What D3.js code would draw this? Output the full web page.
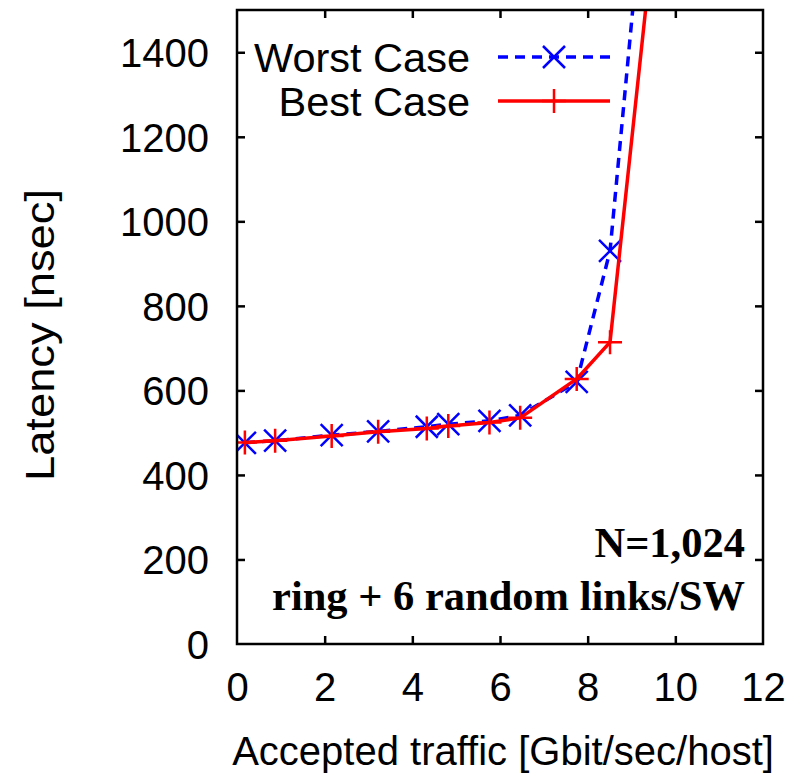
<!DOCTYPE html>
<html>
<head>
<meta charset="utf-8">
<script src="https://cdn.jsdelivr.net/npm/d3@7/dist/d3.min.js"></script>
<style>
  html, body { margin: 0; padding: 0; background: #fff; }
  svg { display: block; }
  text { font-family: "Liberation Sans", Arial, Helvetica, sans-serif; fill: #000; }
  .note { font-family: "Liberation Serif", "Times New Roman", serif; font-weight: bold; }
</style>
</head>
<body>
<svg id="chart" width="796" height="779"></svg>
<script>
// Accepted traffic (Gbit/sec/host) and latency (nsec) per load step
const worstX = [0.18, 0.87, 2.16, 3.22, 4.33, 4.82, 5.76, 6.46, 7.75, 8.51, 9.20];
const worstY = [476, 481, 494, 503, 514, 520, 528, 541, 620, 930, 1690];
const bestX  = [0.18, 0.87, 2.16, 3.22, 4.33, 4.82, 5.76, 6.46, 7.75, 8.51, 9.60];
const bestY  = [477, 481, 492, 502, 510, 516, 524, 535, 627, 714, 1770];

const xTicks = [0, 2, 4, 6, 8, 10, 12];
const yTicks = [0, 200, 400, 600, 800, 1000, 1200, 1400];
const seriesNames = ["Worst Case", "Best Case"];
const noteLines = ["N=1,024", "ring + 6 random links/SW"];

const svg = d3.select("#chart");
const m = { left: 237, right: 763, top: 10, bottom: 644 };

const x = d3.scaleLinear().domain([0, 12]).range([m.left, m.right]);
const y = d3.scaleLinear().domain([0, 1500]).range([m.bottom, m.top]);

svg.append("defs").append("clipPath").attr("id", "plotClip")
  .append("rect")
  .attr("x", m.left).attr("y", m.top)
  .attr("width", m.right - m.left).attr("height", m.bottom - m.top);

// Axes: ticks drawn inward on all four sides
const tickLen = 8;
const fontSize = 40;

const axB = d3.axisBottom(x).tickValues(xTicks).tickSize(-tickLen).tickPadding(29).tickFormat(d3.format("d"));
const axT = d3.axisTop(x).tickValues(xTicks).tickSize(-tickLen).tickFormat("");
const axL = d3.axisLeft(y).tickValues(yTicks).tickSize(-tickLen).tickPadding(28).tickFormat(d3.format("d"));
const axR = d3.axisRight(y).tickValues(yTicks).tickSize(-tickLen).tickFormat("");

function styleAxis(g) {
  g.select(".domain").remove();
  g.selectAll(".tick line").attr("stroke", "#000").attr("stroke-width", 2.5);
  g.selectAll(".tick text").attr("font-size", fontSize).attr("fill", "#000")
    .attr("font-family", "Liberation Sans, Arial, sans-serif");
}

svg.append("g").attr("transform", `translate(0,${m.bottom})`).call(axB).call(styleAxis)
  .selectAll(".tick text").attr("dy", "0.71em");
svg.append("g").attr("transform", `translate(0,${m.top})`).call(axT).call(styleAxis);
svg.append("g").attr("transform", `translate(${m.left},0)`).call(axL).call(styleAxis)
  .selectAll(".tick text").attr("dy", "0.36em");
svg.append("g").attr("transform", `translate(${m.right},0)`).call(axR).call(styleAxis);

// no tick marks where they would sit on the frame corners
svg.selectAll(".tick line").filter(function(d) { return d === 0 || d === 12; }).remove();

// Series
const line = d3.line().x(d => x(d[0])).y(d => y(d[1]));
const worst = worstX.map((v, i) => [v, worstY[i]]);
const best = bestX.map((v, i) => [v, bestY[i]]);

const plot = svg.append("g").attr("clip-path", "url(#plotClip)");

const blue = "#0000ff", red = "#ff0000";
const crossR = 11, plusR = 12;

plot.append("path").datum(worst).attr("d", line)
  .attr("fill", "none").attr("stroke", blue).attr("stroke-width", 3.5)
  .attr("stroke-dasharray", "10,7");

function drawCross(g, cx, cy) {
  g.append("path")
    .attr("d", `M${cx - crossR},${cy - crossR}L${cx + crossR},${cy + crossR}M${cx - crossR},${cy + crossR}L${cx + crossR},${cy - crossR}`)
    .attr("stroke", blue).attr("stroke-width", 2.5).attr("fill", "none");
}
function drawPlus(g, cx, cy) {
  g.append("path")
    .attr("d", `M${cx - plusR},${cy}L${cx + plusR},${cy}M${cx},${cy - plusR}L${cx},${cy + plusR}`)
    .attr("stroke", red).attr("stroke-width", 2.5).attr("fill", "none");
}

worst.forEach(d => drawCross(plot, x(d[0]), y(d[1])));

plot.append("path").datum(best).attr("d", line)
  .attr("fill", "none").attr("stroke", red).attr("stroke-width", 3.5);
best.forEach(d => drawPlus(plot, x(d[0]), y(d[1])));

// Frame
svg.append("rect")
  .attr("x", m.left).attr("y", m.top)
  .attr("width", m.right - m.left).attr("height", m.bottom - m.top)
  .attr("fill", "none").attr("stroke", "#000").attr("stroke-width", 2.5);

// Legend
const legend = svg.append("g");
const legRows = [57, 101];
const legTextX = 470, legL0 = 498, legL1 = 610;
seriesNames.forEach((name, i) => {
  const cy = legRows[i];
  legend.append("text").attr("x", legTextX).attr("y", cy).attr("dy", "0.36em")
    .attr("text-anchor", "end").attr("font-size", 41.5).text(name);
  const ln = legend.append("line").attr("x1", legL0).attr("x2", legL1).attr("y1", cy).attr("y2", cy);
  const mid = (legL0 + legL1) / 2;
  if (i === 0) {
    ln.attr("stroke", blue).attr("stroke-width", 3.5).attr("stroke-dasharray", "10,7");
    drawCross(legend, mid, cy);
  } else {
    ln.attr("stroke", red).attr("stroke-width", 3.5);
    drawPlus(legend, mid, cy);
  }
});

// Annotation
const noteY = [557, 610];
noteLines.forEach((t, i) => {
  svg.append("text").attr("class", "note")
    .attr("x", 745).attr("y", noteY[i]).attr("text-anchor", "end")
    .attr("font-size", 42.5).text(t);
});

// Axis titles
svg.append("text").attr("x", (m.left + m.right) / 2 + 3).attr("y", 765)
  .attr("text-anchor", "middle").attr("font-size", fontSize)
  .text("Accepted traffic [Gbit/sec/host]");
svg.append("text")
  .attr("transform", `translate(54,335) rotate(-90)`)
  .attr("text-anchor", "middle").attr("font-size", 41)
  .attr("textLength", 292).attr("lengthAdjust", "spacingAndGlyphs")
  .text("Latency [nsec]");
</script>
</body>
</html>
